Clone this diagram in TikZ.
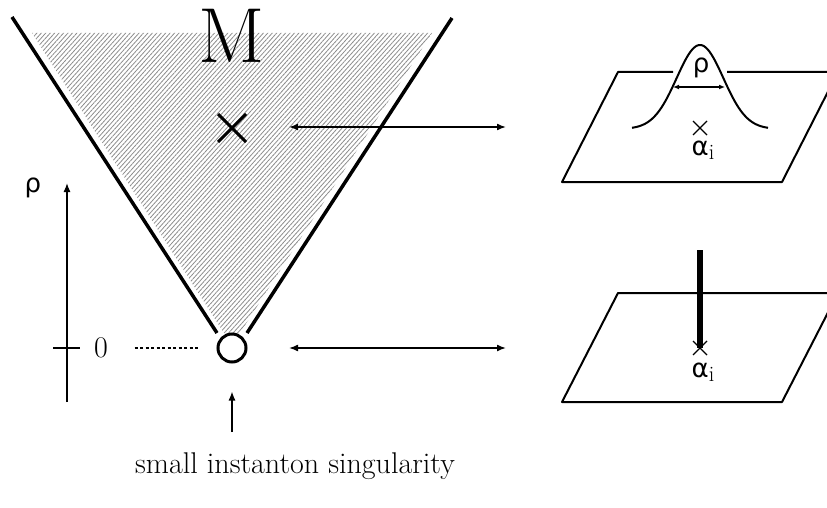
\documentclass[tikz,border=0pt]{standalone}
\usepackage{fontspec}
\newfontfamily\greekfont{DejaVu Sans}
\usepackage{tikz}
\usetikzlibrary{arrows.meta, calc, patterns.meta}
\tikzset{
  wall/.style={line width=3.5pt},
  plane/.style={line width=2pt, line join=round},
  link/.style={<->, line width=1.5pt},
  thin arrow/.style={->, line width=1.3pt},
  lbl/.style={inner sep=0pt, font=\fontsize{26}{30}\selectfont}
}
\newcommand{\rh}{{\greekfont ρ}}
\newcommand{\alphai}{{\greekfont α}\raisebox{-4pt}{\fontsize{22}{24}\selectfont i}}

\begin{document}
\begin{tikzpicture}[x=1pt, y=-1pt, >={Latex[length=9pt,width=7pt]}]
\useasboundingbox (0,0) rectangle (827,508);
\clip (0,0) rectangle (827,508);
% moduli space cone
\fill[pattern={Lines[angle=48,distance=3.3pt,line width=0.8pt]}, pattern color=gray!90]
  (32,33) -- (432,33) -- (240,333) -- (224,333) -- cycle;
\draw[wall] (12,17) -- (217,333);
\draw[wall] (452,18) -- (247,333);
\node[inner sep=0pt, anchor=base, font=\fontsize{78}{78}\selectfont] (M) at (232,63) {M};
\coordinate (pt) at (232,128);
\draw[line width=3pt] ($(pt)+(-14,-14)$) -- ($(pt)+(14,14)$) ($(pt)+(-14,14)$) -- ($(pt)+(14,-14)$);
\node[circle, draw, line width=3pt, minimum size=28pt, inner sep=0pt] (sing) at (232,348) {};
% rho axis
\coordinate (axbot) at (67,402);
\coordinate (axtop) at (67,183);
\draw[thin arrow] (axbot) -- (axtop);
\draw[line width=1.3pt] (53,348) -- (80,348);
\node[lbl] (rho) at (33,188) {\rh};
\node[inner sep=0pt, font=\fontsize{30}{34}\selectfont] (zero) at (101,348) {0};
\draw[line width=1.2pt, dash pattern=on 3pt off 2.5pt] ($(sing.west)+(-82,0)$) -- ($(sing.west)+(-17,0)$);
\coordinate (note) at (232,432);
\draw[thin arrow] (note) -- ($(sing.south)+(0,28)$);
\node[inner sep=0pt, font=\fontsize{30}{34}\selectfont] (sing label) at (295,466) {small instanton singularity};
% arrows to the pictures
\coordinate (upA) at (289,127);
\coordinate (upB) at (506,127);
\coordinate (loA) at (289,348);
\coordinate (loB) at (506,348);
\draw[link] (upA) -- (upB);
\draw[link] (loA) -- (loB);
% upper plane with bump
\draw[plane] (673,72) -- (618,72) -- (562,182) -- (782,182) -- (838,72) -- (727,72);
\draw[plane] plot[domain=-68:68, samples=80] ({700+\x}, {129-84*exp(-(\x/33)^2)});
\coordinate (wl) at (673,87);
\coordinate (wr) at (725,87);
\draw[<->, line width=1.2pt, >={Latex[length=6pt,width=5pt]}] (wl) -- (wr);
\node[lbl] (width) at (701,68) {\rh};
\coordinate (ai) at (700,128);
\draw[line width=1.3pt] ($(ai)+(-7,-7)$) -- ($(ai)+(7,7)$) ($(ai)+(-7,7)$) -- ($(ai)+(7,-7)$);
\node[lbl] (ailabel) at (703,150) {\alphai};
% lower plane with small instanton
\draw[plane] (618,293) -- (562,402) -- (782,402) -- (838,293) -- cycle;
\coordinate (bi) at (700,348);
\draw[line width=6pt] (700,250) -- (bi);
\draw[line width=1.3pt] ($(bi)+(-7,-7)$) -- ($(bi)+(7,7)$) ($(bi)+(-7,7)$) -- ($(bi)+(7,-7)$);
\node[lbl] (bilabel) at (703,372) {\alphai};
\end{tikzpicture}
\end{document}
